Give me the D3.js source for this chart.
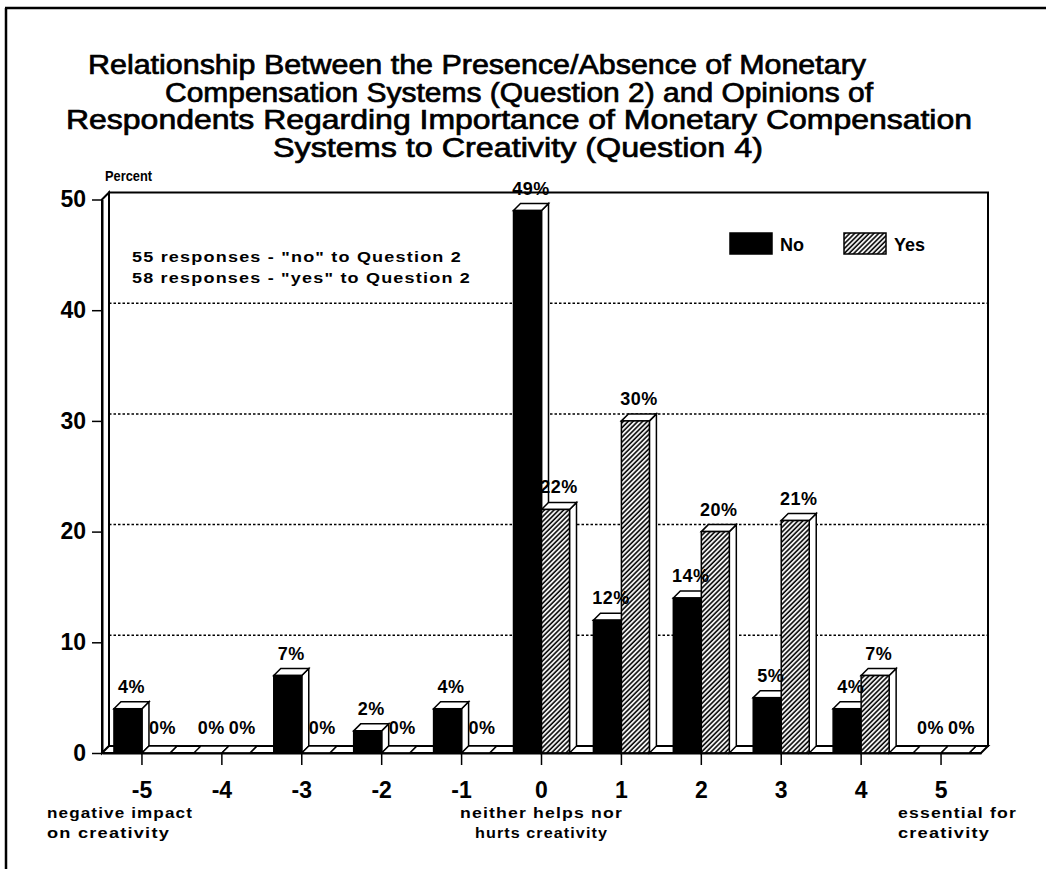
<!DOCTYPE html>
<html>
<head>
<meta charset="utf-8">
<script src="https://cdn.jsdelivr.net/npm/d3@7/dist/d3.min.js"></script>
<style>
  body { margin: 0; background: #fff; }
  text { font-family: "Liberation Sans", Arial, Helvetica, sans-serif; fill: #000; }
</style>
</head>
<body>
<div id="vis"></div>
<script>
// chart data
const categories = [-5, -4, -3, -2, -1, 0, 1, 2, 3, 4, 5]
const noValues = [4, 0, 7, 2, 4, 49, 12, 14, 5, 4, 0]
const yesValues = [0, 0, 0, 0, 0, 22, 30, 20, 21, 7, 0]
const yTicks = [0, 10, 20, 30, 40, 50]
const gridValues = [10, 20, 30, 40]
const seriesNames = ['No', 'Yes']

const titleLines = [
  'Relationship Between the Presence/Absence of Monetary',
  'Compensation Systems (Question 2) and Opinions of',
  'Respondents Regarding Importance of Monetary Compensation',
  'Systems to Creativity (Question 4)'
]
const noteLines = [
  '55 responses - "no" to Question 2',
  '58 responses - "yes" to Question 2'
]
const lowLabel = ['negative impact', 'on creativity']
const midLabel = ['neither helps nor', 'hurts creativity']
const highLabel = ['essential for', 'creativity']

const W = 1046, H = 869
const depth = 7
const barW = 28

const svg = d3.select('#vis').append('svg')
  .attr('width', W)
  .attr('height', H)

const defs = svg.append('defs')
const hatch = defs.append('pattern')
  .attr('id', 'hatch')
  .attr('patternUnits', 'userSpaceOnUse')
  .attr('width', 3.4).attr('height', 3.4)
  .attr('patternTransform', 'rotate(45)')
hatch.append('rect').attr('width', 3.4).attr('height', 3.4).attr('fill', '#fff')
hatch.append('line')
  .attr('x1', 1).attr('x2', 1).attr('y1', 0).attr('y2', 3.4)
  .attr('stroke', '#000').attr('stroke-width', 1.6)

// scales
const x = d3.scaleBand().domain(categories).range([102, 981])
const y = d3.scaleLinear().domain([0, 50]).range([753, 199.5])
const cx = c => x(c) + x.bandwidth() / 2

// page frame of the scan
svg.append('line').attr('x1', 5).attr('x2', W).attr('y1', 8).attr('y2', 8)
  .attr('stroke', '#000').attr('stroke-width', 2.5)
svg.append('line').attr('x1', 6).attr('x2', 6).attr('y1', 8).attr('y2', H)
  .attr('stroke', '#000').attr('stroke-width', 2.5)

// title
const titleBox = [[88, 866], [165, 873], [66, 972], [273, 763]]
svg.selectAll('.title')
  .data(titleLines)
  .enter().append('text')
  .attr('class', 'title')
  .attr('x', (d, i) => titleBox[i][0])
  .attr('y', (d, i) => 74 + i * 27.7)
  .attr('textLength', (d, i) => titleBox[i][1] - titleBox[i][0])
  .attr('lengthAdjust', 'spacingAndGlyphs')
  .style('font-size', '27px')
  .style('stroke', '#000')
  .style('stroke-width', '0.7px')
  .text(d => d)

// back wall, side wall, floor
const x0 = x.range()[0], x1 = x.range()[1]
const [yb, yt] = y.range()
const wall = svg.append('g').attr('fill', '#fff').attr('stroke', '#000').attr('stroke-width', 2)
wall.append('rect')
  .attr('x', x0 + depth).attr('y', yt - depth)
  .attr('width', x1 - x0).attr('height', yb - yt)
wall.append('polygon')
  .attr('points', [[x0, yb], [x0 + depth, yb - depth], [x0 + depth, yt - depth], [x0, yt]].join(' '))

svg.selectAll('.grid')
  .data(gridValues)
  .enter().append('line')
  .attr('class', 'grid')
  .attr('x1', x0 + depth).attr('x2', x1 + depth)
  .attr('y1', d => y(d) - depth).attr('y2', d => y(d) - depth)
  .attr('stroke', '#000').attr('stroke-width', 1.5)
  .attr('stroke-dasharray', '2.5,2')

wall.append('polygon')
  .attr('points', [[x0, yb], [x1, yb], [x1 + depth, yb - depth], [x0 + depth, yb - depth]].join(' '))

// bars as 3D boxes
const bars = []
categories.forEach((c, i) => {
  bars.push({ cat: c, series: 'No', value: noValues[i], bx: cx(c) - barW })
  bars.push({ cat: c, series: 'Yes', value: yesValues[i], bx: cx(c) })
})

const barG = svg.append('g')
bars.forEach(b => {
  const top = y(b.value)
  const g = barG.append('g').attr('stroke', '#000').attr('stroke-width', 1.5)
  g.append('polygon')
    .attr('points', [[b.bx + barW, top], [b.bx + barW + depth, top - depth], [b.bx + barW + depth, yb - depth], [b.bx + barW, yb]].join(' '))
    .attr('fill', '#fff')
  g.append('polygon')
    .attr('points', [[b.bx, top], [b.bx + depth, top - depth], [b.bx + barW + depth, top - depth], [b.bx + barW, top]].join(' '))
    .attr('fill', '#fff')
  if (b.value > 0) {
    g.append('rect')
      .attr('x', b.bx).attr('y', top)
      .attr('width', barW).attr('height', yb - top)
      .attr('fill', b.series === 'No' ? '#000' : 'url(#hatch)')
  }
})

// value labels
svg.selectAll('.val')
  .data(bars)
  .enter().append('text')
  .attr('class', 'val')
  .attr('x', d => d.bx + barW / 2 + depth / 2 + (d.value === 0 && d.series === 'Yes' ? 3 : 0))
  .attr('y', d => y(d.value) - depth - (d.value > 0 ? 9 : 12))
  .attr('text-anchor', 'middle')
  .style('font-size', '18px')
  .style('font-weight', 'bold')
  .style('letter-spacing', '0.5px')
  .text(d => d.value + '%')

// axes
const yAxis = svg.append('g')
  .attr('transform', `translate(${x0},0)`)
  .call(d3.axisLeft(y).tickValues(yTicks).tickSize(10).tickSizeOuter(0).tickPadding(6))
yAxis.select('.domain').attr('stroke-width', 2)
yAxis.selectAll('.tick line').attr('stroke-width', 1.5)
yAxis.selectAll('text')
  .style('font-size', '23px').style('font-weight', 'bold')
  .style('font-family', '"Liberation Sans", Arial, sans-serif')

const xAxis = svg.append('g')
  .attr('transform', `translate(0,${yb})`)
  .call(d3.axisBottom(x).tickSize(12).tickSizeOuter(0).tickPadding(17))
xAxis.select('.domain').attr('stroke-width', 2)
xAxis.selectAll('.tick line').attr('stroke-width', 1.5)
xAxis.selectAll('text')
  .style('font-size', '23px').style('font-weight', 'bold')
  .style('font-family', '"Liberation Sans", Arial, sans-serif')

// y axis title
svg.append('text')
  .attr('x', 105).attr('y', 181)
  .style('font-size', '14px').style('font-weight', 'bold')
  .attr('textLength', 47).attr('lengthAdjust', 'spacingAndGlyphs')
  .text('Percent')

// sample size notes
svg.selectAll('.note')
  .data(noteLines)
  .enter().append('text')
  .attr('class', 'note')
  .attr('x', 132)
  .attr('y', (d, i) => 262 + i * 21)
  .attr('textLength', (d, i) => [330, 339][i])
  .attr('lengthAdjust', 'spacingAndGlyphs')
  .style('font-size', '15px').style('font-weight', 'bold')
  .style('letter-spacing', '1px')
  .text(d => d)

// scale end descriptions under the x axis
function subLabel(lines, xPos, anchor, widths) {
  svg.selectAll(null)
    .data(lines)
    .enter().append('text')
    .attr('x', xPos)
    .attr('y', (d, i) => 818 + i * 20)
    .attr('text-anchor', anchor)
    .attr('textLength', (d, i) => widths[i])
    .attr('lengthAdjust', 'spacingAndGlyphs')
    .style('font-size', '15px').style('font-weight', 'bold')
    .style('letter-spacing', '1px')
    .text(d => d)
}
subLabel(lowLabel, 47, 'start', [146, 123])
subLabel(midLabel, cx(0), 'middle', [163, 133])
subLabel(highLabel, 898, 'start', [119, 92])

// legend
const legend = svg.append('g')
const legendX = [730, 844]
seriesNames.forEach((name, i) => {
  legend.append('rect')
    .attr('x', legendX[i]).attr('y', 233)
    .attr('width', 42).attr('height', 21)
    .attr('fill', i === 0 ? '#000' : 'url(#hatch)')
    .attr('stroke', '#000').attr('stroke-width', 1.5)
  legend.append('text')
    .attr('x', legendX[i] + 50).attr('y', 251)
    .style('font-size', '18px').style('font-weight', 'bold')
    .text(name)
})
</script>
</body>
</html>
